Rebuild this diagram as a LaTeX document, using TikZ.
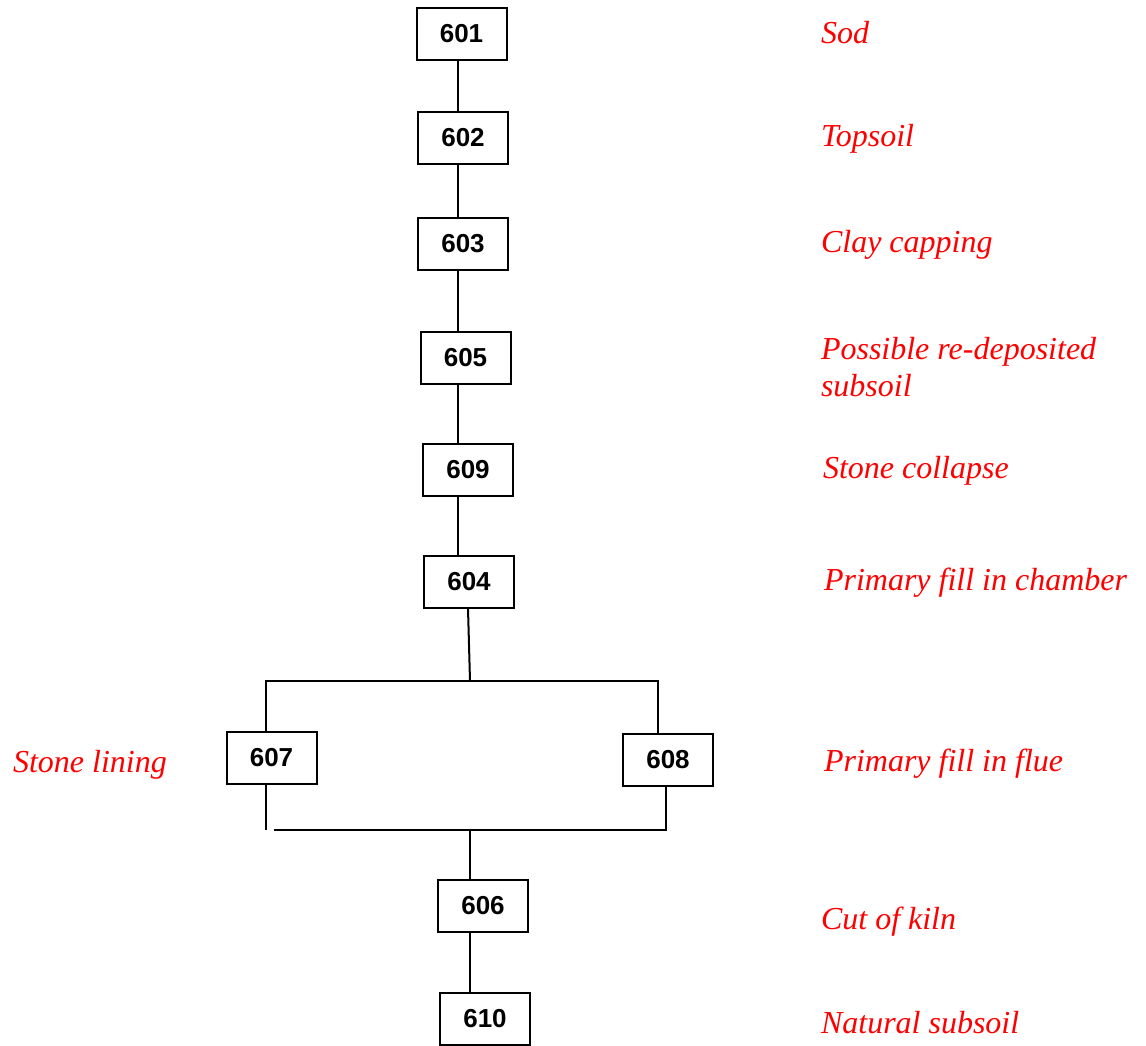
\documentclass[tikz,border=0pt]{standalone}
\usepackage{fontspec}
\newfontfamily\numfont{Liberation Sans}
\newfontfamily\notefont{Liberation Serif}
\begin{document}
\begin{tikzpicture}[x=.5pt,y=-.5pt,line width=1pt,
  ctx/.style={draw,minimum width=45pt,minimum height=26pt,inner sep=0pt,font=\numfont\bfseries\fontsize{13}{15}\selectfont},
  note/.style={anchor=base west,inner sep=0pt,text=red,align=left,font=\notefont\itshape\fontsize{16}{18.5}\selectfont}]
\useasboundingbox (0,0) rectangle (1146,1045);
\node[ctx] (u601) at (461.5,33.5) {601};
\node[ctx] (u602) at (463,138) {602};
\node[ctx] (u603) at (463,244) {603};
\node[ctx] (u605) at (465.5,357.5) {605};
\node[ctx] (u609) at (468,469.5) {609};
\node[ctx] (u604) at (469,581.5) {604};
\node[ctx] (u607) at (271.5,758) {607};
\node[ctx] (u608) at (668,760) {608};
\node[ctx] (u606) at (483,905.5) {606};
\node[ctx] (u610) at (485,1019) {610};
\coordinate (spine) at (458,0);
\coordinate (split) at (470,681);
\coordinate (join) at (470,830);
\draw (u601.south -| spine) -- (u602.north -| spine);
\draw (u602.south -| spine) -- (u603.north -| spine);
\draw (u603.south -| spine) -- (u605.north -| spine);
\draw (u605.south -| spine) -- (u609.north -| spine);
\draw (u609.south -| spine) -- (u604.north -| spine);
\draw (u604.south -| 468,0) -- (split);
\draw (u607.north -| 266,0) -- (266,681) -- (658,681) -- (u608.north -| 658,0);
\draw (u607.south -| 266,0) -- (266,830);
\draw (274,830) -- (666,830) -- (u608.south -| 666,0);
\draw (join) -- (u606.north -| join);
\draw (u606.south -| join) -- (u610.north -| join);
\node[note] (l601) at (820,43) {Sod};
\node[note] (l602) at (820,146) {Topsoil};
\node[note] (l603) at (820,252) {Clay capping};
\node[note] (l605) at (820,396) {Possible re-deposited\\subsoil};
\node[note] (l609) at (822,478) {Stone collapse};
\node[note] (l604) at (823,590) {Primary fill in chamber};
\node[note] (l607) at (12,772) {Stone lining};
\node[note] (l608) at (823,771) {Primary fill in flue};
\node[note] (l606) at (820,929) {Cut of kiln};
\node[note] (l610) at (820,1033) {Natural subsoil};
\end{tikzpicture}
\end{document}
